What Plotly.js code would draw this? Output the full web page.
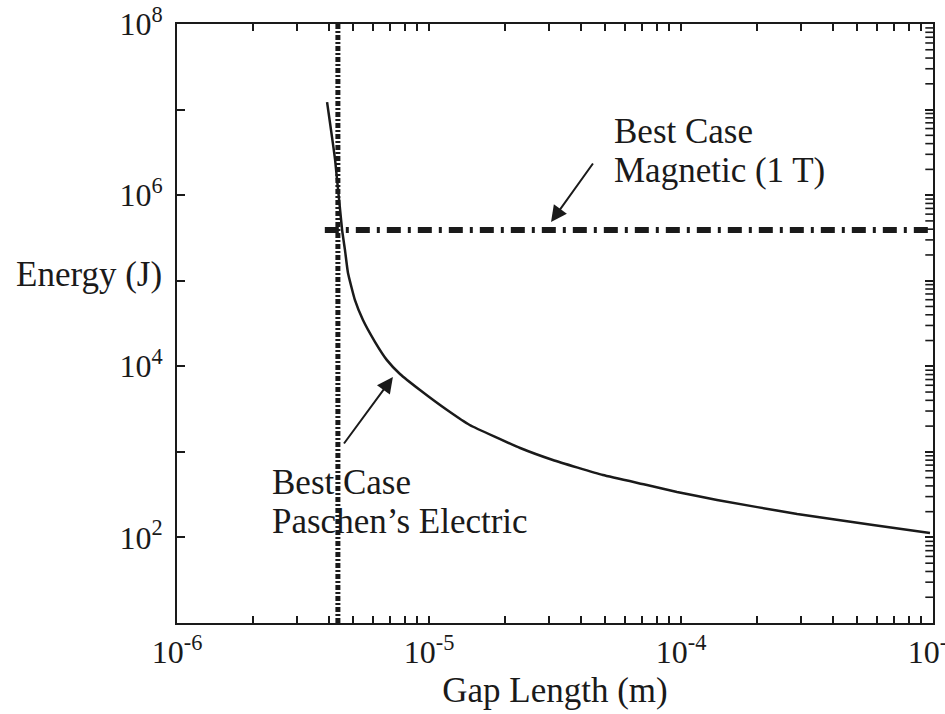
<!DOCTYPE html>
<html>
<head>
<meta charset="utf-8">
<script src="https://cdn.plot.ly/plotly-3.0.1.min.js"></script>
<style>html,body{margin:0;padding:0;background:#fff;}#chart{width:945px;height:714px;}</style>
</head>
<body>
<div id="chart"></div>
<script>
// Paschen's electric curve (gap length in m, energy in J)
const gapLength = [3.94e-6, 4.24e-6, 4.52e-6, 4.64e-6, 4.77e-6, 5.08e-6, 5.47e-6, 6.11e-6, 6.81e-6, 7.67e-6, 9.21e-6,
  1.18e-5, 1.45e-5, 2.3e-5, 3.1e-5, 4.9e-5, 7.33e-5, 9.64e-5, 1.39e-4, 2.89e-4, 5.78e-4, 9.73e-4];
const paschenEnergy = [1.22e7, 2.58e6, 3.92e5, 2.29e5, 1.23e5, 5.96e4, 3.47e4, 1.92e4, 1.18e4, 8.13e3, 5.28e3,
  3.08e3, 2.06e3, 1.11e3, 804, 536, 410, 340, 274, 188, 140, 113];
// Best case magnetic (1 T) level
const magneticGap = [3.86e-6, 1e-3];
const magneticEnergy = [3.92e5, 3.92e5];
// Minimum gap (vertical marker)
const minGap = [4.35e-6, 4.35e-6];
const minGapEnergy = [10, 1e8];
// Ticks
const xDecades = [1e-6, 1e-5, 1e-4, 1e-3];
const xDecadeText = ['10<sup>-6</sup>', '10<sup>-5</sup>', '10<sup>-4</sup>', '10<sup>-3</sup>'];
const yDecades = [1e1, 1e2, 1e3, 1e4, 1e5, 1e6, 1e7, 1e8];
const yDecadeText = ['', '10<sup>2</sup>', '', '10<sup>4</sup>', '', '10<sup>6</sup>', '', '10<sup>8</sup>'];
const mantissas = [1, 2, 3, 4, 5, 6, 7, 8, 9];

// x ticks: every decade plus 2..9 in between, labels only on decades
const xTickVals = [], xTickText = [];
xDecades.forEach((d, i) => {
  if (i < xDecades.length - 1) {
    mantissas.forEach(m => { xTickVals.push(m * d); xTickText.push(m === 1 ? xDecadeText[i] : ''); });
  } else { xTickVals.push(d); xTickText.push(xDecadeText[i]); }
});
// y minor positions (shown on the right edge only)
const yMinor = [];
yDecades.slice(0, -1).forEach(d => mantissas.slice(1).forEach(m => yMinor.push(m * d)));

const serif = '"Liberation Serif", "Times New Roman", serif';
const ink = '#1a1a1a';
const xRight = xDecades[xDecades.length - 1];

const traces = [
  {x: minGap, y: minGapEnergy, mode: 'lines', line: {color: ink, width: 5, dash: '5px,2px,2px,2px'}, hoverinfo: 'skip'},
  {x: gapLength, y: paschenEnergy, mode: 'lines', line: {color: ink, width: 2.5, shape: 'spline', smoothing: 0.4}, hoverinfo: 'skip'},
  {x: magneticGap, y: magneticEnergy, mode: 'lines', line: {color: ink, width: 6, dash: '14px,7px,3px,7px'}, hoverinfo: 'skip'},
  {x: yMinor.map(() => xRight), y: yMinor, mode: 'markers', cliponaxis: true, hoverinfo: 'skip',
   marker: {symbol: 'line-ew-open', size: 11, color: ink, line: {color: ink, width: 1.6}}}
];

const layout = {
  width: 945, height: 714,
  margin: {l: 177, r: 12, t: 24, b: 91},
  paper_bgcolor: '#fff', plot_bgcolor: '#fff',
  showlegend: false,
  font: {family: serif, color: ink},
  xaxis: {
    type: 'log', range: [-6, -3],
    tickmode: 'array', tickvals: xTickVals, ticktext: xTickText,
    ticks: 'inside', ticklen: 7, tickwidth: 2, tickcolor: ink,
    showline: true, linecolor: ink, linewidth: 2, mirror: 'ticks',
    showgrid: false, zeroline: false,
    tickfont: {family: serif, size: 32, color: ink},
    ticklabeloverflow: 'allow',
    title: {text: 'Gap Length (m)', font: {family: serif, size: 35, color: ink}, standoff: 8}
  },
  yaxis: {
    type: 'log', range: [1, 8],
    tickmode: 'array', tickvals: yDecades, ticktext: yDecadeText,
    ticks: 'inside', ticklen: 8, tickwidth: 2, tickcolor: ink,
    showline: true, linecolor: ink, linewidth: 2, mirror: 'ticks',
    showgrid: false, zeroline: false,
    tickfont: {family: serif, size: 32, color: ink},
    ticklabelstandoff: 6
  },
  annotations: [
    {xref: 'paper', yref: 'paper', x: -0.116, y: 0.581, text: 'Energy (J)', showarrow: false,
     xanchor: 'center', yanchor: 'middle', font: {family: serif, size: 35, color: ink}},
    {xref: 'paper', yref: 'paper', x: 0.575, y: 0.820, text: 'Best Case', showarrow: false,
     xanchor: 'left', yanchor: 'middle', font: {family: serif, size: 35, color: ink}},
    {xref: 'paper', yref: 'paper', x: 0.575, y: 0.755, text: 'Magnetic (1 T)', showarrow: false,
     xanchor: 'left', yanchor: 'middle', font: {family: serif, size: 35, color: ink}},
    {xref: 'paper', yref: 'paper', x: 0.123, y: 0.235, text: 'Best Case', showarrow: false,
     xanchor: 'left', yanchor: 'middle', font: {family: serif, size: 35, color: ink}},
    {xref: 'paper', yref: 'paper', x: 0.123, y: 0.170, text: 'Paschen’s Electric', showarrow: false,
     xanchor: 'left', yanchor: 'middle', font: {family: serif, size: 35, color: ink}},
    {x: Math.log10(3.05e-5), y: Math.log10(4.85e5), text: '', showarrow: true, ax: 43, ay: -60,
     arrowhead: 2, arrowsize: 1.6, arrowwidth: 2, arrowcolor: ink},
    {x: Math.log10(7.19e-6), y: Math.log10(7.5e3), text: '', showarrow: true, ax: -50, ay: 68,
     arrowhead: 2, arrowsize: 1.6, arrowwidth: 2, arrowcolor: ink}
  ]
};

Plotly.newPlot('chart', traces, layout, {staticPlot: true, displayModeBar: false});
</script>
</body>
</html>
